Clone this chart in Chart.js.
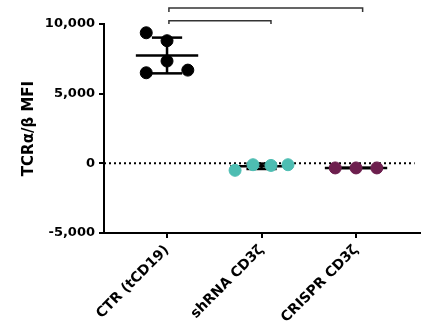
<!DOCTYPE html>
<html lang="en">
<head>
<meta charset="utf-8">
<title>TCR MFI</title>
<script src="https://cdn.jsdelivr.net/npm/chart.js@4/dist/chart.umd.min.js"></script>
<style>
  body { margin: 0; background: #fff; }
  #wrap { width: 430px; height: 326px; }
</style>
</head>
<body>
<div id="wrap"><canvas id="chart"></canvas></div>
<script>
// groups and per-mouse values
const categories = ['CTR (tCD19)', 'shRNA CD3\u03B6', 'CRISPR CD3\u03B6'];
const ctrValues = [9370, 8800, 7340, 6500, 6690];
const ctrJitter = [-0.22, 0, 0, -0.22, 0.22];
const shrnaValues = [-500, -100, -150, -100];
const shrnaJitter = [-0.28, -0.09, 0.1, 0.28];
const crisprValues = [-330, -330, -330];
const crisprJitter = [-0.22, 0, 0.22];
const groupColors = ['#000000', '#4dbdb2', '#6d1f4e'];
const yTicks = [-5000, 0, 5000, 10000];
// significance brackets: [from, to, top, bottom]
const brackets = [[0.02, 2.07, 11150, 10860], [0.02, 1.1, 10240, 10000]];

const groups = [ctrValues, shrnaValues, crisprValues];
const jitters = [ctrJitter, shrnaJitter, crisprJitter];

function mean(a) { return a.reduce((s, v) => s + v, 0) / a.length; }
function sd(a) {
  const m = mean(a);
  return Math.sqrt(a.reduce((s, v) => s + (v - m) * (v - m), 0) / (a.length - 1));
}

const datasets = [];
groups.forEach((vals, i) => {
  datasets.push({
    type: 'scatter',
    data: vals.map((v, j) => ({ x: i + jitters[i][j], y: v })),
    backgroundColor: groupColors[i],
    borderColor: groupColors[i],
    pointRadius: 6,
    pointHoverRadius: 6,
    order: 0
  });
  const m = mean(vals), s = sd(vals);
  const segs = [
    [{ x: i - 0.33, y: m }, { x: i + 0.33, y: m }],
    [{ x: i, y: m - s }, { x: i, y: m + s }],
    [{ x: i - 0.16, y: m + s }, { x: i + 0.16, y: m + s }],
    [{ x: i - 0.16, y: m - s }, { x: i + 0.16, y: m - s }]
  ];
  segs.forEach(seg => datasets.push({
    type: 'line', data: seg, borderColor: '#000', borderWidth: 2.5,
    pointRadius: 0, order: 1
  }));
});

// dotted zero line
datasets.push({
  type: 'line', data: [{ x: -0.667, y: 0 }, { x: 2.62, y: 0 }],
  borderColor: '#000', borderWidth: 2, borderDash: [2, 3],
  pointRadius: 0, order: 2
});

brackets.forEach(b => datasets.push({
  type: 'line',
  data: [{ x: b[0], y: b[3] }, { x: b[0], y: b[2] }, { x: b[1], y: b[2] }, { x: b[1], y: b[3] }],
  borderColor: '#333', borderWidth: 1.5, pointRadius: 0, clip: false, order: 2
}));

Chart.defaults.font.family = 'DejaVu Sans';
Chart.defaults.font.weight = 'bold';
Chart.defaults.color = '#000';

new Chart(document.getElementById('chart'), {
  type: 'scatter',
  data: { datasets: datasets },
  options: {
    responsive: true,
    maintainAspectRatio: false,
    animation: false,
    layout: { padding: { top: 24, right: 10 } },
    plugins: { legend: { display: false }, tooltip: { enabled: false } },
    scales: {
      x: {
        type: 'linear', min: -0.667, max: 2.677,
        afterBuildTicks: s => { s.ticks = [0, 1, 2].map(v => ({ value: v })); },
        afterFit: s => { s.height = 93; },
        ticks: {
          callback: v => categories[v],
          minRotation: 45, maxRotation: 45, padding: 4,
          font: { size: 14, weight: 'bold' }
        },
        grid: { display: true, drawOnChartArea: false, drawTicks: true, tickLength: 5, color: '#000', lineWidth: 2 },
        border: { display: true, color: '#000', width: 2 }
      },
      y: {
        min: -5000, max: 10000,
        afterBuildTicks: s => { s.ticks = yTicks.map(v => ({ value: v })); },
        afterFit: s => { s.width = 104; },
        ticks: { padding: 4, font: { size: 13, weight: 'bold' } },
        title: {
          display: true, text: 'TCR\u03B1/\u03B2 MFI',
          font: { size: 15, weight: 'bold' }, padding: { top: 20, bottom: 0 }
        },
        grid: { display: true, drawOnChartArea: false, drawTicks: true, tickLength: 5, color: '#000', lineWidth: 2 },
        border: { display: true, color: '#000', width: 2 }
      }
    }
  }
});
</script>
</body>
</html>
